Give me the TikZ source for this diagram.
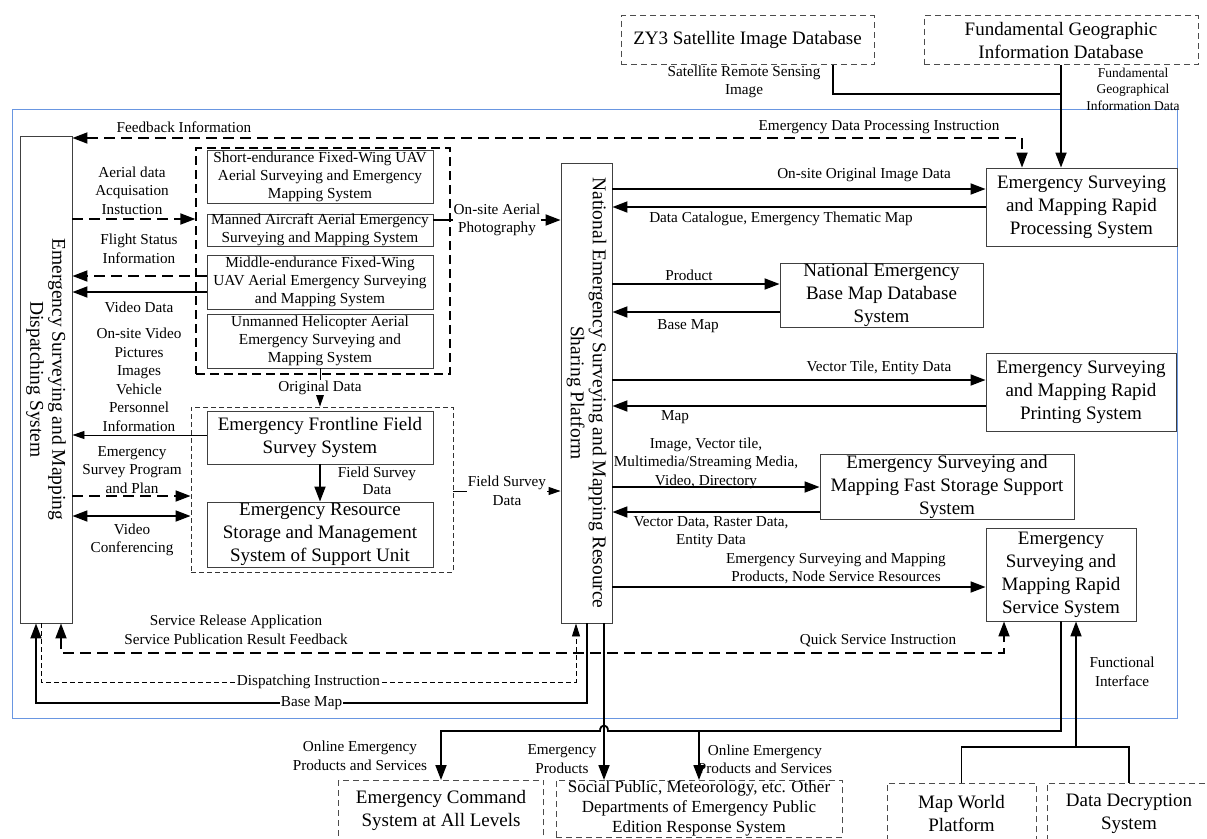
\documentclass[tikz,border=0pt]{standalone}
\usepackage{fontspec}
\setmainfont{Liberation Serif}
\usetikzlibrary{arrows.meta}
\definecolor{framecol}{RGB}{105,150,225}

\begin{document}
\begin{tikzpicture}[x=1pt,y=-1pt,
    >={Triangle[length=15pt,width=11pt]},
    box/.style={draw=black!75,line width=0.9pt,align=center,inner sep=0pt,font={\fontsize{19}{23}\selectfont}},
    sub/.style={draw=black!75,line width=0.9pt,align=center,inner sep=0pt,minimum width=226pt,font={\fontsize{15.3}{18}\selectfont}},
    ext/.style={draw=black!70,dash pattern=on 6pt off 4pt,line width=0.8pt,align=center,inner sep=0pt,font={\fontsize{19}{23}\selectfont}},
    grp/.style={draw,dash pattern=on 9pt off 5pt,line width=1.3pt,inner sep=0pt},
    grpthin/.style={draw=black!80,dash pattern=on 5pt off 3pt,line width=0.9pt,inner sep=0pt},
    rot/.style={rotate=-90,align=center,font={\fontsize{19.5}{22}\selectfont}},
    lab/.style={font={\fontsize{15.2}{18.5}\selectfont},align=center,inner sep=1pt},
    slab/.style={font={\fontsize{13.5}{16.5}\selectfont},align=center,inner sep=1pt},
    sline/.style={line width=1.8pt},
    dline/.style={line width=1.8pt,dash pattern=on 11pt off 6pt},
    tline/.style={line width=0.9pt,>={Triangle[length=12pt,width=8pt]}},
    tdline/.style={line width=0.9pt,dash pattern=on 5pt off 3pt,>={Triangle[length=13pt,width=8pt]}}]

    \useasboundingbox (0,0) rectangle (1207,838);

    \draw[framecol,line width=0.8pt] (12,109) rectangle (1177,718);

    % outside sources
    \node[ext,minimum width=253pt,minimum height=49pt] (sat) at (747.5,40) {ZY3 Satellite Image Database};
    \node[ext,minimum width=274pt,minimum height=49pt] (fgi) at (1061,40) {Fundamental Geographic\\Information Database};

    % dispatching system and resource sharing platform
    \node[box,minimum width=52pt,minimum height=487pt,
          label={[rot]center:{Emergency Surveying and Mapping\\Dispatching System}}] (dispatch) at (46,379.5) {};
    \node[box,minimum width=51pt,minimum height=460pt,
          label={[rot]center:{National Emergency Surveying and Mapping Resource\\Sharing Platform}}] (platform) at (586.5,393) {};

    % aerial systems
    \node[grp,minimum width=254pt,minimum height=226pt] (aerial) at (323,261) {};
    \node[sub,minimum height=53pt] (uavA) at (320,176.5) {Short-endurance Fixed-Wing UAV\\Aerial Surveying and Emergency\\Mapping System};
    \node[sub,minimum height=32pt] (manned) at (320,230) {Manned Aircraft Aerial Emergency\\Surveying and Mapping System};
    \node[sub,minimum height=54pt] (uavB) at (320,282) {Middle-endurance Fixed-Wing\\UAV Aerial Emergency Surveying\\and Mapping System};
    \node[sub,minimum height=54pt] (heli) at (320,341) {Unmanned Helicopter Aerial\\Emergency Surveying and\\Mapping System};

    % support unit
    \node[grpthin,minimum width=262pt,minimum height=165pt] (support) at (322,489.5) {};
    \node[box,minimum width=226pt,minimum height=53pt] (frontline) at (320,437.5) {Emergency Frontline Field\\Survey System};
    \node[box,minimum width=226pt,minimum height=65pt] (storage) at (320,534.5) {Emergency Resource\\Storage and Management\\System of Support Unit};

    % right hand systems
    \node[box,minimum width=191pt,minimum height=78pt] (process) at (1081.5,207) {Emergency Surveying\\and Mapping Rapid\\Processing System};
    \node[box,minimum width=203pt,minimum height=64pt] (basemap) at (881.5,295) {National Emergency\\Base Map Database\\System};
    \node[box,minimum width=190pt,minimum height=78pt] (printing) at (1081,392) {Emergency Surveying\\and Mapping Rapid\\Printing System};
    \node[box,minimum width=254pt,minimum height=65pt] (faststore) at (947,486.5) {Emergency Surveying and\\Mapping Fast Storage Support\\System};
    \node[box,minimum width=150pt,minimum height=93pt] (service) at (1061,574.5) {Emergency\\Surveying and\\Mapping Rapid\\Service System};

    % users
    \node[ext,minimum width=205pt,minimum height=60pt,anchor=north] (command) at (441,780) {Emergency Command\\System at All Levels};
    \node[ext,minimum width=286pt,minimum height=57pt,anchor=north,font={\fontsize{17}{20}\selectfont}] (social) at (699,780) {Social Public, Meteorology, etc. Other\\Departments of Emergency Public\\Edition Response System};
    \node[ext,minimum width=149pt,minimum height=60pt,anchor=north] (mapworld) at (961.5,783) {Map World\\Platform};
    \node[ext,minimum width=164pt,minimum height=60pt,anchor=north] (decrypt) at (1129,783) {Data Decryption\\System};

    \coordinate (satout) at (833,64.5);
    \coordinate (fjoin)  at (1076,747);
    \coordinate (ojoin)  at (699,731);

    % top
    \draw[sline] (satout) |- (fgi.south |- 0,94);
    \draw[sline,->] (fgi.south) -- (fgi.south |- process.north);
    \node[lab] (lsat) at (744,82) {Satellite Remote Sensing\\Image};
    \node[slab] (lfgi) at (1133,89) {Fundamental\\Geographical\\Information Data};

    \draw[dline,<->] (dispatch.east |- 0,138) -| (process.north -| 1022,0);
    \node[lab] (lfeed) at (184,127) {Feedback Information};
    \node[lab] (lproc) at (879,127) {Emergency Data Processing Instruction};

    % dispatch <-> field units
    \draw[dline,->] (dispatch.east |- 0,219) -- (aerial.west |- 0,219);
    \node[lab] (lacq) at (132,190.5) {Aerial data\\Acquisation\\Instuction};
    \draw[dline,->] (uavB.west |- 0,276) -- (dispatch.east |- 0,276);
    \node[lab] (lflight) at (139,249) {Flight Status\\Information};
    \draw[sline,->] (uavB.west |- 0,292) -- (dispatch.east |- 0,292);
    \node[lab] (lvideo) at (139,307) {Video Data};
    \draw[tline,->] (frontline.west |- 0,435) -- (dispatch.east |- 0,435);
    \node[lab] (lonsite) at (139,380) {On-site Video\\Pictures\\Images\\Vehicle\\Personnel\\Information};
    \draw[dline,->] (dispatch.east |- 0,496) -- (support.west |- 0,496);
    \node[lab] (lplan) at (132,470) {Emergency\\Survey Program\\and Plan};
    \draw[sline,<->] (dispatch.east |- 0,516) -- (support.west |- 0,516);
    \node[lab] (lconf) at (132,540) {Video\\Conferencing};

    \draw[sline,->] (manned.east |- 0,220) -- node[lab,fill=white] (laerial) {On-site Aerial\\Photography} (platform.west |- 0,220);
    \draw[tline,->] (heli.south) -- node[lab,fill=white] (lorig) {Original Data} (heli.south |- support.north);
    \draw[sline,->] (frontline) -- (storage);
    \node[lab,font={\fontsize{15.2}{17}\selectfont}] (lfield) at (377,480.5) {Field Survey\\Data};
    \draw[tline,->] (support.east |- 0,491) -- node[lab,fill=white] (lfield2) {Field Survey\\Data} (platform.west |- 0,491);

    % platform <-> systems
    \draw[sline,->] (platform.east |- 0,189) -- (process.west |- 0,189);
    \node[lab] (lorigimg) at (864,175) {On-site Original Image Data};
    \draw[sline,->] (process.west |- 0,207) -- (platform.east |- 0,207);
    \node[lab] (lcat) at (781,219) {Data Catalogue, Emergency Thematic Map};
    \draw[sline,->] (platform.east |- 0,284) -- (basemap.west |- 0,284);
    \node[lab] (lprod) at (689,275) {Product};
    \draw[sline,->] (basemap.west |- 0,312) -- (platform.east |- 0,312);
    \node[lab] (lbase) at (688,326) {Base Map};
    \draw[sline,->] (platform.east |- 0,380) -- (printing.west |- 0,380);
    \node[lab] (ltile) at (879,368) {Vector Tile, Entity Data};
    \draw[sline,->] (printing.west |- 0,406) -- (platform.east |- 0,406);
    \node[lab] (lmap) at (675,417) {Map};
    \draw[sline,->] (platform.east |- 0,487) -- (faststore.west |- 0,487);
    \node[lab] (limg) at (706,463) {Image, Vector tile,\\Multimedia/Streaming Media,\\Video, Directory};
    \draw[sline,->] (faststore.west |- 0,512) -- (platform.east |- 0,512);
    \node[lab] (lvec) at (711,532) {Vector Data, Raster Data,\\Entity Data};
    \draw[sline,->] (platform.east |- 0,587) -- (service.west |- 0,587);
    \node[lab] (lres) at (836,568.5) {Emergency Surveying and Mapping\\Products, Node Service Resources};

    % bottom loops
    \draw[dline,<->] (dispatch.south -| 61,0) |- (1004,653) -- (service.south -| 1004,0);
    \node[lab] (lrel) at (236,630) {Service Release Application\\Service Publication Result Feedback};
    \node[lab] (lquick) at (878,640) {Quick Service Instruction};
    \draw[tdline,->] (dispatch.south -| 41,0) |- node[lab,fill=white,pos=.75] (ldisp) {Dispatching Instruction} (576,682) -- (platform.south -| 576,0);
    \draw[sline,->] (platform.south -| 587,0) |- node[lab,fill=white,pos=.75] (lbase2) {Base Map} (36,703) -- (dispatch.south -| 36,0);

    % outputs
    \draw[sline,->] (platform.south -| 604,0) -- (social.north -| 604,0);
    \node[lab] (lemprod) at (562,759) {Emergency\\Products};
    \draw[sline,->] (service.south) |- (608,731) .. controls (608,723.5) and (600,723.5) .. (600,731) -| (command.north);
    \draw[sline,->] (ojoin) -- (social.north -| ojoin);
    \node[lab] (lonl1) at (360,756) {Online Emergency\\Products and Services};
    \node[lab] (lonl2) at (765,759.5) {Online Emergency\\Products and Services};

    \draw[sline] (mapworld.north) |- (decrypt.north |- fjoin) -- (decrypt.north);
    \draw[sline,->] (fjoin) -- (service.south -| fjoin);
    \node[lab] (lfunc) at (1122,672) {Functional\\Interface};

\end{tikzpicture}
\end{document}
